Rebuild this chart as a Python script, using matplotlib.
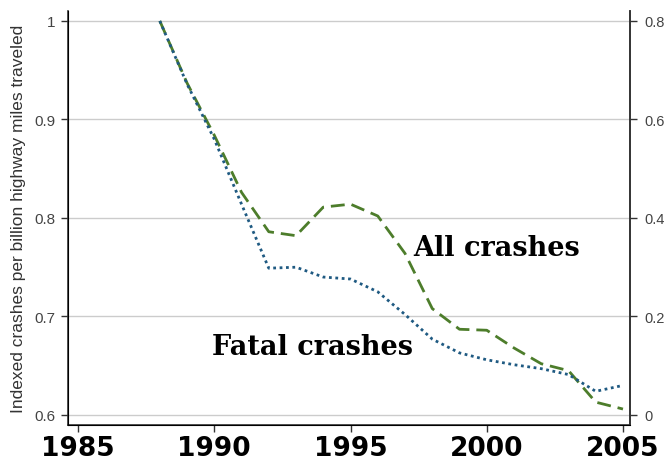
import matplotlib.pyplot as plt
import numpy as np

# valeurs
years = [1988, 1989, 1990, 1991, 1992, 1993, 1994, 1995, 1996, 1997,
         1998, 1999, 2000, 2001, 2002, 2003, 2004, 2005]
all_crashes = [1.0, 0.937, 0.884, 0.826, 0.786, 0.782, 0.811, 0.814, 0.802, 0.764,
               0.708, 0.687, 0.686, 0.668, 0.652, 0.645, 0.613, 0.606]
fatal_crashes = [1.0, 0.936, 0.880, 0.814, 0.749, 0.750, 0.740, 0.738, 0.725, 0.702,
                 0.677, 0.663, 0.656, 0.651, 0.647, 0.641, 0.624, 0.630]

left_ticks = [0.6, 0.7, 0.8, 0.9, 1.0]
left_labels = ["0.6", "0.7", "0.8", "0.9", "1"]
right_ticks = [0, 0.2, 0.4, 0.6, 0.8]
right_labels = ["0", "0.2", "0.4", "0.6", "0.8"]
x_ticks = [1985, 1990, 1995, 2000, 2005]

fig = plt.figure(figsize=(6.71, 4.64), dpi=100)
ax = fig.add_axes([0.1013, 0.0819, 0.8377, 0.8922])

ax.plot(years, all_crashes, color="#4d7d2b", linestyle=(0, (5, 2.5)), linewidth=2.0)
ax.plot(years, fatal_crashes, color="#1f5a82", linestyle=(0, (1, 1.3)), linewidth=2.0)

ax.set_xlim(1984.63, 2005.26)
ax.set_ylim(0.5898, 1.0101)

ax.set_yticks(left_ticks)
ax.set_yticklabels(left_labels, family="Liberation Sans")
ax.set_xticks(x_ticks)
ax.set_xticklabels([str(x) for x in x_ticks], fontsize=19, fontweight="semibold")
ax.tick_params(axis="y", labelsize=11, colors="#333333", labelcolor="#444444", length=5, width=1, pad=4)
ax.tick_params(axis="x", length=5, width=1, colors="#333333", labelcolor="black", pad=2)
ax.grid(axis="y", color="#cccccc", linewidth=1)
ax.set_ylabel("Indexed crashes per billion highway miles traveled", fontsize=12.5,
              family="Liberation Sans", color="#333333", labelpad=6)

for s in ["left", "bottom", "right"]:
    ax.spines[s].set_color("#333333")
    ax.spines[s].set_linewidth(1.2)
ax.spines["top"].set_visible(False)

# axe de droite
ax2 = ax.twinx()
ax2.set_ylim((0.5898 - 0.6) * 2, (1.0101 - 0.6) * 2)
ax2.set_yticks(right_ticks)
ax2.set_yticklabels(right_labels, family="Liberation Sans")
ax2.tick_params(axis="y", labelsize=10.5, colors="#333333", labelcolor="#444444", length=5, width=1, pad=5)
ax2.spines["top"].set_visible(False)
ax2.spines["right"].set_color("#333333")
ax2.spines["right"].set_linewidth(1.2)

ax.text(1997.29, 0.7624, "All crashes", fontsize=19.5, fontweight="bold", family="DejaVu Serif",
        ha="left", va="baseline")
ax.text(1989.92, 0.662, "Fatal crashes", fontsize=19.5, fontweight="bold", family="DejaVu Serif",
        ha="left", va="baseline")

fig.savefig("out.png", dpi=100)
